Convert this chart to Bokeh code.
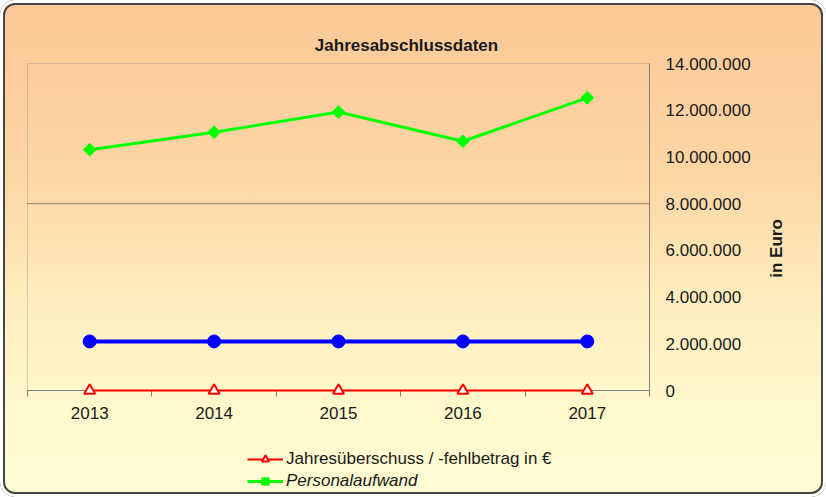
import numpy as np
from bokeh.plotting import figure
from bokeh.models import (Range1d, FixedTicker, CustomJSTickFormatter, Label, BoxAnnotation,
                          Legend, LegendItem)
from bokeh.embed import file_html
from bokeh.resources import INLINE

# ---- data ----
years = ["2013", "2014", "2015", "2016", "2017"]
jahresueberschuss = [0, 0, 0, 0, 0]
personalaufwand = [10_310_000, 11_060_000, 11_920_000, 10_670_000, 12_530_000]
blue_series = [2_100_000, 2_100_000, 2_100_000, 2_100_000, 2_100_000]
y_ticks = [0, 2_000_000, 4_000_000, 6_000_000, 8_000_000, 10_000_000, 12_000_000, 14_000_000]
reference_level = 8_000_000
title_text = "Jahresabschlussdaten"
axis_title = "in Euro"
label_jue = "Jahresüberschuss / -fehlbetrag in €"
label_pers = "Personalaufwand"

# ---- layout / style ----
W, H = 826, 497
PL, PR, PT, PB = 27, 649, 63, 390          # plot-area box in canvas pixels
FONT = "Liberation Sans"
TXT = "#1a1a1a"
GRAY = "#808080"
FS = "17px"

x = list(range(len(years)))
x0, x1 = -0.5, len(years) - 0.5
y0, y1 = y_ticks[0], y_ticks[-1]
kx = (x1 - x0) / (PR - PL)
ky = (y1 - y0) / (PB - PT)

p = figure(width=W, height=H, output_backend="svg", toolbar_location=None, title=None,
           x_range=Range1d(x0 - PL * kx, x1 + (W - PR) * kx),
           y_range=Range1d(y0 - (H - PB) * ky, y1 + PT * ky),
           y_axis_location="right", min_border=0)
p.background_fill_alpha = 0
p.border_fill_alpha = 0
p.outline_line_color = None
p.xgrid.visible = False
p.ygrid.visible = False
p.styles = {
    "background": "linear-gradient(to bottom, #FCC897 0%, #FDD6A4 35%, #FFEFC0 62%, #FFFACD 85%, #FFFBD2 100%)",
    "border-radius": "15px",
    "box-shadow": "inset 0 0 0 3px #ffffff, inset 0 0 0 5px #454545",
}

# plot-area box
p.add_layout(BoxAnnotation(left=x0, right=x1, bottom=y0, top=y1, fill_alpha=0,
                           line_color=GRAY, line_width=1))

# x axis at y = 0
xa = p.xaxis[0]
xa.fixed_location = y0
xa.bounds = (x0, x1)
xa.ticker = FixedTicker(ticks=x, minor_ticks=[i - 0.5 for i in range(len(years) + 1)])
xa.major_label_overrides = {i: yr for i, yr in enumerate(years)}
xa.major_tick_line_color = None
xa.minor_tick_in = 0
xa.minor_tick_out = 6
xa.minor_tick_line_color = GRAY
xa.axis_line_color = GRAY
xa.major_label_standoff = 10
xa.major_label_text_font = FONT
xa.major_label_text_font_size = FS
xa.major_label_text_color = TXT

# y axis at right edge of plot area
ya = p.yaxis[0]
ya.fixed_location = x1
ya.bounds = (y0, y1)
ya.ticker = FixedTicker(ticks=y_ticks)
ya.formatter = CustomJSTickFormatter(
    code="return Math.round(tick).toString().replace(/\\B(?=(\\d{3})+(?!\\d))/g, '.');")
ya.major_tick_in = 0
ya.major_tick_out = 0
ya.minor_tick_line_color = None
ya.axis_line_color = GRAY
ya.major_label_standoff = 16
ya.major_label_text_font = FONT
ya.major_label_text_font_size = FS
ya.major_label_text_color = TXT

# dotted reference line across the plot area
p.line([x0, x1], [reference_level, reference_level], line_color="#222222",
       line_width=1, line_dash="1 1")

# series
p.line(x, blue_series, line_color="#0000FF", line_width=4)
p.scatter(x, blue_series, marker="circle", size=13, fill_color="#0000FF", line_color="#0000FF")

g_line = p.line(x, personalaufwand, line_color="#00FF00", line_width=3)
g_pts = p.scatter(x, personalaufwand, marker="square", angle=np.pi / 4, size=9,
                  fill_color="#00FF00", line_color="#00FF00")

r_line = p.line(x, jahresueberschuss, line_color="#FF0000", line_width=2, level="overlay")
r_pts = p.scatter(x, jahresueberschuss, marker="triangle", size=11, fill_color="white",
                  line_color="#FF0000", line_width=2, level="overlay")

# title and axis title
p.add_layout(Label(x=406, y=45, x_units="canvas", y_units="canvas", text=title_text,
                   text_font=FONT, text_font_size=FS, text_font_style="bold",
                   text_color=TXT, text_align="center", text_baseline="middle"))
p.add_layout(Label(x=776, y=248, x_units="canvas", y_units="canvas", text=axis_title,
                   angle=np.pi / 2, text_font=FONT, text_font_size=FS,
                   text_font_style="bold", text_color=TXT, text_align="center",
                   text_baseline="middle"))

# legends
def make_legend(label, renderers, loc, style):
    return Legend(items=[LegendItem(label=label, renderers=renderers)], location=loc,
                  orientation="vertical", padding=0, margin=0, spacing=0,
                  glyph_width=36, glyph_height=18, label_height=18, label_standoff=3,
                  label_text_font=FONT, label_text_font_size=FS,
                  label_text_font_style=style, label_text_color=TXT,
                  border_line_alpha=0, background_fill_alpha=0)

p.add_layout(make_legend(label_jue, [r_line, r_pts], (247, 28), "normal"))
p.add_layout(make_legend(label_pers, [g_line, g_pts], (247, 6), "italic"))

open("out.html", "w").write(file_html(p, INLINE))
